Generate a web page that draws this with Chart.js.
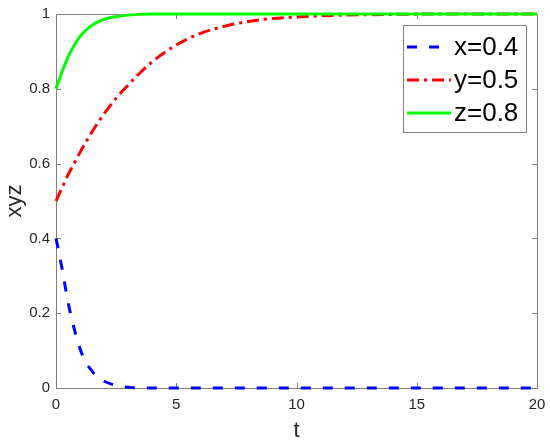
<!DOCTYPE html>
<html>
<head>
<meta charset="utf-8">
<script src="https://cdn.jsdelivr.net/npm/chart.js@4"></script>
<style>
  html, body { margin: 0; padding: 0; background: #fff; }
  #wrap { width: 550px; height: 448px; }
</style>
</head>
<body>
<div id="wrap"><canvas id="xyzChart" width="550" height="448"></canvas></div>
<script>
const tValues = [0, 0.25, 0.5, 0.75, 1, 1.25, 1.5, 1.75, 2, 2.5, 3, 3.5, 4, 5, 6, 7, 8, 9, 10, 11, 12, 14, 16, 18, 20];
const xValues = [0.4, 0.32, 0.23, 0.16, 0.105, 0.068, 0.045, 0.028, 0.018, 0.007, 0.002, 0.0005, 0, 0, 0, 0, 0, 0, 0, 0, 0, 0, 0, 0, 0];
const yValues = [0.5, 0.535, 0.57, 0.6, 0.63, 0.658, 0.685, 0.71, 0.733, 0.775, 0.81, 0.843, 0.872, 0.917, 0.948, 0.967, 0.98, 0.988, 0.992, 0.995, 0.997, 0.999, 1, 1, 1];
const zValues = [0.8, 0.845, 0.885, 0.915, 0.94, 0.957, 0.97, 0.979, 0.986, 0.993, 0.997, 0.999, 1, 1, 1, 1, 1, 1, 1, 1, 1, 1, 1, 1, 1];
const seriesLabels = ["x=0.4", "y=0.5", "z=0.8"];
const xTicks = [0, 5, 10, 15, 20];
const yTicks = [0, 0.2, 0.4, 0.6, 0.8, 1];

const AXIS = "#262626";
const FONT = "'Liberation Sans', Arial, sans-serif";

function points(vals) {
  return tValues.map((t, i) => ({ x: t, y: vals[i] }));
}

// box around the plot with inward ticks on all four sides, MATLAB style
const boxPlugin = {
  id: "box",
  beforeDatasetsDraw(chart) {
    const { ctx, chartArea: a, scales } = chart;
    ctx.save();
    ctx.strokeStyle = "#808080";
    ctx.lineWidth = 1;
    ctx.strokeRect(a.left + 0.5, a.top + 0.5, a.right - a.left, a.bottom - a.top);
    ctx.beginPath();
    xTicks.forEach((v) => {
      const px = Math.round(scales.x.getPixelForValue(v)) + 0.5;
      ctx.moveTo(px, a.bottom); ctx.lineTo(px, a.bottom - 5);
      ctx.moveTo(px, a.top); ctx.lineTo(px, a.top + 5);
    });
    yTicks.forEach((v) => {
      const py = Math.round(scales.y.getPixelForValue(v)) + 0.5;
      ctx.moveTo(a.left, py); ctx.lineTo(a.left + 5, py);
      ctx.moveTo(a.right, py); ctx.lineTo(a.right - 5, py);
    });
    ctx.stroke();
    ctx.restore();
  },
  afterDraw(chart) {
    const { ctx } = chart;
    ctx.save();
    // legend box
    const lx = 403, ly = 25, lw = 123, lh = 107;
    ctx.fillStyle = "#fff";
    ctx.fillRect(lx, ly, lw, lh);
    ctx.strokeStyle = "#808080";
    ctx.lineWidth = 1;
    ctx.strokeRect(lx + 0.5, ly + 0.5, lw, lh);
    ctx.font = "26px " + FONT;
    ctx.textBaseline = "middle";
    chart.data.datasets.forEach((ds, i) => {
      const y = ly + 22 + i * 33;
      ctx.beginPath();
      ctx.strokeStyle = ds.borderColor;
      ctx.lineWidth = ds.borderWidth;
      ctx.setLineDash(ds.borderDash || []);
      ctx.moveTo(lx + 4, y);
      ctx.lineTo(lx + 48, y);
      ctx.stroke();
      ctx.setLineDash([]);
      ctx.fillStyle = "#000";
      ctx.fillText(ds.label, lx + 51, y + 1);
    });
    ctx.restore();
  },
};

const chart = new Chart(document.getElementById("xyzChart"), {
  type: "line",
  data: {
    datasets: [
      { label: seriesLabels[0], data: points(xValues), borderColor: "#0000ff", borderWidth: 3, borderDash: [10, 12], order: 2, clip: false },
      { label: seriesLabels[1], data: points(yValues), borderColor: "#ff0000", borderWidth: 3, borderDash: [12, 5, 3, 5], order: 1, clip: false },
      { label: seriesLabels[2], data: points(zValues), borderColor: "#00ff00", borderWidth: 3, order: 0, clip: false },
    ],
  },
  options: {
    responsive: false,
    animation: false,
    cubicInterpolationMode: "monotone",
    elements: { point: { radius: 0 } },
    layout: { padding: { top: 14, right: 13, left: 0, bottom: 0 } },
    plugins: {
      legend: { display: false },
      tooltip: { enabled: false },
    },
    scales: {
      x: {
        type: "linear",
        min: 0,
        max: 20,
        afterFit: (s) => { s.height = 60; s.paddingLeft = 0; s.paddingRight = 0; },
        afterBuildTicks: (s) => { s.ticks = xTicks.map((v) => ({ value: v })); },
        grid: { display: false, drawTicks: false },
        border: { display: false },
        ticks: { color: AXIS, font: { size: 15, family: FONT }, padding: 8, maxRotation: 0 },
        title: { display: true, text: "t", color: AXIS, font: { size: 22, family: FONT }, padding: { top: 0, bottom: 4 } },
      },
      y: {
        min: 0,
        max: 1,
        afterFit: (s) => { s.width = 56; s.paddingTop = 0; s.paddingBottom = 0; },
        afterBuildTicks: (s) => { s.ticks = yTicks.map((v) => ({ value: v })); },
        grid: { display: false, drawTicks: false },
        border: { display: false },
        ticks: { color: AXIS, font: { size: 15, family: FONT }, padding: 6, callback: (v) => String(Number(v.toFixed(1))) },
        title: { display: true, text: "xyz", color: AXIS, font: { size: 22, family: FONT }, padding: { top: 2, bottom: 0 } },
      },
    },
  },
  plugins: [boxPlugin],
});
</script>
</body>
</html>
